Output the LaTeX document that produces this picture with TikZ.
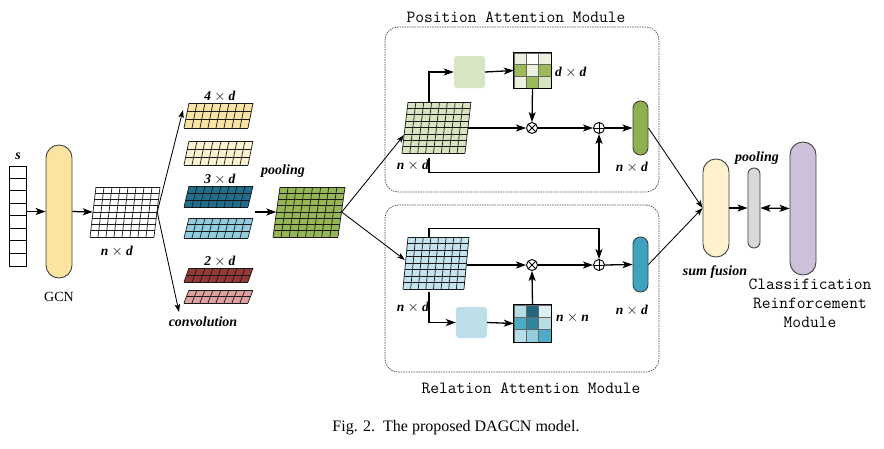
\documentclass[tikz,border=0pt]{standalone}
\usepackage{fontspec}
\setmainfont{Liberation Serif}
\usetikzlibrary{arrows.meta,calc}

\definecolor{gcnc}{HTML}{FCE3A0}
\definecolor{mapA}{HTML}{FBE3A6}
\definecolor{mapB}{HTML}{FDF1D0}
\definecolor{mapC}{HTML}{1F6E8C}
\definecolor{mapD}{HTML}{93CDDD}
\definecolor{mapE}{HTML}{953735}
\definecolor{mapF}{HTML}{DFA0A0}
\definecolor{poolc}{HTML}{94B654}
\definecolor{lgreen}{HTML}{D8E4BF}
\definecolor{lgreenb}{HTML}{D8E5C5}
\definecolor{gcap}{HTML}{8DB14F}
\definecolor{lblue}{HTML}{C3E3EE}
\definecolor{lblueb}{HTML}{BCDFEA}
\definecolor{bcap}{HTML}{3EA3BF}
\definecolor{sfc}{HTML}{FFF2CC}
\definecolor{grayc}{HTML}{D9D9D9}
\definecolor{purc}{HTML}{CCC0DA}
\definecolor{gA}{HTML}{EBF1DE}
\definecolor{gB}{HTML}{9BBB59}
\definecolor{gC}{HTML}{D7E4BD}
\definecolor{bA}{HTML}{B7DEE8}
\definecolor{bB}{HTML}{23667E}
\definecolor{bC}{HTML}{DAEEF3}
\definecolor{bD}{HTML}{4BACC6}
\definecolor{bE}{HTML}{31859C}
\definecolor{bF}{HTML}{92CDDC}

\newcommand\dimlab[2]{\textbf{\textit{#1}}${}\times{}$\textbf{\textit{#2}}}

% name, x bottom-left, y bottom, width, height, skew, cols, rows, fill
\newcommand\pgrid[9]{%
  \pgfmathsetmacro\slnt{#6/#5}%
  \begin{scope}[shift={(#2,#3)}, xslant=\slnt]
    \fill[#9] (0,0) rectangle (#4,-#5);
    \foreach \i in {0,...,#7}{\draw[gridln] ({\i*#4/#7},0) -- ({\i*#4/#7},-#5);}
    \foreach \j in {0,...,#8}{\draw[gridln] (0,{-\j*#5/#8}) -- (#4,{-\j*#5/#8});}
  \end{scope}
  \node[inner sep=0, minimum width={#4pt}, minimum height={#5pt}] (#1) at ({#2+#6/2+#4/2},{#3-#5/2}) {};
}

\begin{document}
\begin{tikzpicture}[x=1pt,y=-1pt,
  lab/.style={font=\fontsize{13.5}{15}\selectfont, inner sep=0},
  ilab/.style={font=\fontsize{14}{16}\selectfont\bfseries\itshape, inner sep=0},
  ttl/.style={font=\fontsize{17}{19}\selectfont\ttfamily, inner sep=0},
  capt/.style={font=\fontsize{16}{18}\selectfont, inner sep=0},
  plain/.style={font=\fontsize{14}{16}\selectfont, inner sep=0},
  arr/.style={-{Stealth[length=10pt,width=7pt,inset=2.5pt]}, line width=1.3pt},
  tarr/.style={-{Stealth[length=8pt,width=5.5pt,inset=2pt]}, line width=0.85pt},
  darr/.style={{Stealth[length=10pt,width=7pt,inset=2.5pt]}-{Stealth[length=10pt,width=7pt,inset=2.5pt]}, line width=1.3pt},
  dbox/.style={draw=black!70, dash pattern=on 1.5pt off 1pt, line width=0.7pt, rounded corners=13pt, inner sep=0},
  capsule/.style={draw=black!75, line width=0.9pt, inner sep=0},
  gridln/.style={draw=black!90, line width=0.7pt},
  otim/.style={circle, draw, line width=0.9pt, minimum size=11pt, inner sep=0,
    path picture={\draw[line width=0.9pt] (path picture bounding box.north west) -- (path picture bounding box.south east)
      (path picture bounding box.north east) -- (path picture bounding box.south west);}},
  oplu/.style={circle, draw, line width=0.9pt, minimum size=11pt, inner sep=0,
    path picture={\draw[line width=0.9pt] (path picture bounding box.north) -- (path picture bounding box.south)
      (path picture bounding box.east) -- (path picture bounding box.west);}},
  plainbox/.style={rounded corners=3pt, inner sep=0, minimum width=31pt}
]
\useasboundingbox (0,0) rectangle (884,448);
\fill[white] (0,0) rectangle (884,448);

% ---- input strip
\node[draw, line width=0.8pt, minimum width=17pt, minimum height=100pt, inner sep=0] (s) at (17.5,216) {};
\foreach \k in {1,...,7}{\draw[line width=0.8pt] ($(s.north west)+(0,\k*12.5)$) -- ($(s.north east)+(0,\k*12.5)$);}
\node[ilab] at (18,156) {s};

% ---- GCN
\node[capsule, fill=gcnc, minimum width=26pt, minimum height=133pt, rounded corners=12.9pt] (gcn) at (59,211.5) {};
\node[plain] at (59,297) {GCN};
\draw[arr] (s.east |- gcn.west) -- (gcn.west);

% ---- n x d grid
\pgrid{g1}{90}{237}{64}{50}{6}{8}{8}{white}
\node[lab] at (117,251) {\dimlab{n}{d}};
\draw[arr] (gcn.east) -- (g1.west);

\coordinate (cu) at (183,110);
\coordinate (cd) at (179,312);
\draw[tarr] (g1.east) -- (cu);
\draw[tarr] (g1.east) -- (cd);

% ---- convolution maps
\pgrid{m1}{184}{128}{64}{25}{5}{8}{3}{mapA}
\pgrid{m2}{184}{165}{64}{24}{5}{8}{3}{mapB}
\pgrid{m3}{184}{207}{64}{21}{5}{8}{3}{mapC}
\pgrid{m4}{184}{238}{64}{20}{5}{8}{3}{mapD}
\pgrid{m5}{184}{282}{64}{14}{5}{8}{2}{mapE}
\pgrid{m6}{184}{303}{64}{13}{5}{8}{2}{mapF}
\node[lab] at (220,96) {\dimlab{4}{d}};
\node[lab] at (220,179) {\dimlab{3}{d}};
\node[lab] at (220,261) {\dimlab{2}{d}};
\node[ilab] at (203,322) {convolution};

% ---- pooling grid
\pgrid{pool}{273}{237}{65}{50}{7}{8}{8}{poolc}
\node[ilab] at (283,171) {pooling};
\coordinate (pa) at (255,212);
\draw[arr] (pa) -- (pool.west |- pa);

\coordinate (pgin) at (404,135);
\coordinate (rgin) at (405,260);
\draw[tarr] (pool.east) -- (pgin);
\draw[tarr] (pool.east) -- (rgin);

% ---- Position attention module
\node[dbox, minimum width=274pt, minimum height=165pt] (pam) at (522,109.5) {};
\node[ttl] at (516,17) {Position Attention Module};
\pgrid{pg}{402}{153}{63}{51}{6}{8}{8}{lgreen}
\node[lab] at (413,165) {\dimlab{n}{d}};
\node[plainbox, fill=lgreenb, minimum height=32pt] (pbox) at (469.5,72) {};
\node[inner sep=0, minimum width=37pt, minimum height=35pt] (pmat) at (532.5,70.5) {};
\begin{scope}[shift={(pmat.north west)}]
\foreach \c [count=\k from 0] in {gA,white,gA,gB,gA,gB,gA,gB,gC}{
  \pgfmathtruncatemacro\ci{mod(\k,3)}
  \pgfmathtruncatemacro\cj{div(\k,3)}
  \filldraw[fill=\c, draw=black!60, line width=0.5pt] ({\ci*37/3},{\cj*35/3}) rectangle ++({37/3},{35/3});
}
\end{scope}
\draw[line width=0.9pt] (pmat.north west) rectangle (pmat.south east);
\node[lab, anchor=west] at (555,72) {\dimlab{d}{d}};
\node[otim] (pm) at (532,128) {};
\node[oplu] (pp) at (599,128) {};
\node[capsule, fill=gcap, minimum width=15pt, minimum height=54pt, rounded corners=7.4pt] (pcap) at (640.5,128) {};
\node[lab] at (632,167) {\dimlab{n}{d}};
\draw[arr] ([xshift=-7.5pt]pg.north) |- (pbox.west);
\draw[arr] (pbox.east) -- (pmat.west);
\draw[arr] (pmat.south) -- (pm.north);
\draw[arr] (pg.east |- pm) -- (pm.west);
\draw[arr] (pm.east) -- (pp.west);
\draw[arr] (pp.east) -- (pcap.west);
\draw[arr] ([xshift=-7.5pt,yshift=-5pt]pg.south) -- ++(0,14) -| (pp.south);

% ---- Relation attention module
\node[dbox, minimum width=274pt, minimum height=167pt] (ram) at (522,288.5) {};
\node[ttl] at (531,388) {Relation Attention Module};
\pgrid{rg}{403}{289}{61}{52}{5}{8}{8}{lblue}
\node[lab] at (413,307) {\dimlab{n}{d}};
\node[otim] (rm) at (532,265) {};
\node[oplu] (rp) at (599,265) {};
\node[capsule, fill=bcap, minimum width=15pt, minimum height=55pt, rounded corners=7.4pt] (rcap) at (640.5,264.5) {};
\node[lab] at (632,310) {\dimlab{n}{d}};
\node[plainbox, fill=lblueb, minimum height=31pt] (rbox) at (471.5,322.5) {};
\node[inner sep=0, minimum width=37pt, minimum height=37pt] (rmat) at (532.5,323.5) {};
\begin{scope}[shift={(rmat.north west)}]
\foreach \c [count=\k from 0] in {bA,bB,bC,bD,bE,bA,bA,bF,bD}{
  \pgfmathtruncatemacro\ci{mod(\k,3)}
  \pgfmathtruncatemacro\cj{div(\k,3)}
  \filldraw[fill=\c, draw=black!60, line width=0.5pt] ({\ci*37/3},{\cj*37/3}) rectangle ++({37/3},{37/3});
}
\end{scope}
\draw[line width=0.9pt] (rmat.north west) rectangle (rmat.south east);
\node[lab, anchor=west] at (556,318) {\dimlab{n}{n}};
\draw[arr] ([xshift=-7pt]rg.north) -- ++(0,-8) -| (rp.north);
\draw[arr] (rg.east |- rm) -- (rm.west);
\draw[arr] (rm.east) -- (rp.west);
\draw[arr] (rp.east) -- (rcap.west);
\draw[arr] ([xshift=-7pt,yshift=-3pt]rg.south) |- (rbox.west);
\draw[arr] (rbox.east) -- (rmat.west);
\draw[arr] (rmat.north) -- (rm.south);

% ---- fusion and classification
\node[capsule, fill=sfc, minimum width=26pt, minimum height=98pt, rounded corners=12.9pt] (sf) at (716,208) {};
\node[ilab] at (715,272) {sum fusion};
\node[capsule, fill=grayc, minimum width=12pt, minimum height=80pt, rounded corners=5.9pt] (gc) at (754,208) {};
\node[ilab] at (757,158) {pooling};
\node[capsule, fill=purc, minimum width=26pt, minimum height=133pt, rounded corners=12.9pt] (pc) at (803,208.5) {};
\node[ttl, align=center] at (810,303) {Classification\\Reinforcement\\Module};
\draw[tarr] (pcap.east) -- (sf.west);
\draw[tarr] (rcap.east) -- (sf.west);
\draw[arr] (sf.east) -- (gc.west);
\draw[darr] (gc.east) -- (pc.west);

% ---- caption
\node[capt] at (456,428) {Fig. 2.\ \ The proposed DAGCN model.};
\end{tikzpicture}
\end{document}
